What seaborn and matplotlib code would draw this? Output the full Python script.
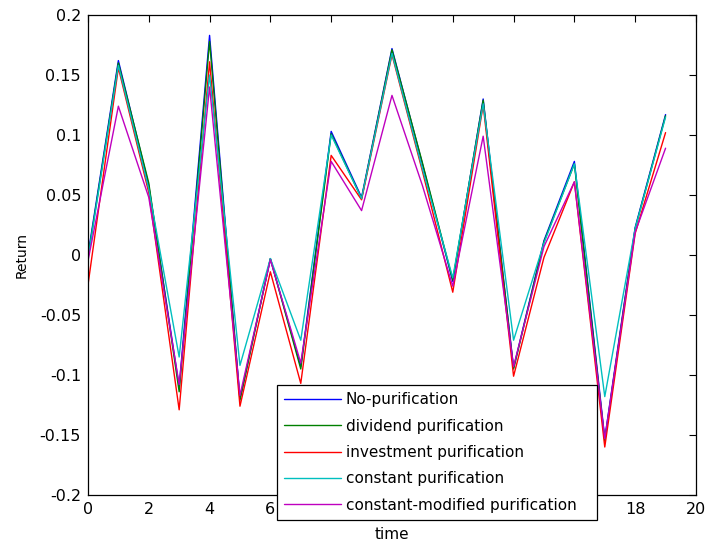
import matplotlib
matplotlib.use("Agg")
import matplotlib.pyplot as plt
import pandas as pd
import seaborn as sns

# Return series for each purification scheme, one value per time step
time = list(range(20))
no_purification = [0.000, 0.162, 0.058, -0.110, 0.183, -0.120, -0.003, -0.093, 0.103, 0.048,
                   0.172, 0.076, -0.022, 0.130, -0.094, 0.012, 0.078, -0.153, 0.023, 0.117]
dividend_purification = [-0.002, 0.160, 0.060, -0.114, 0.178, -0.121, -0.003, -0.095, 0.101, 0.047,
                         0.171, 0.077, -0.021, 0.129, -0.095, 0.011, 0.076, -0.155, 0.022, 0.116]
investment_purification = [-0.025, 0.156, 0.052, -0.129, 0.161, -0.126, -0.014, -0.107, 0.083, 0.046,
                           0.167, 0.070, -0.031, 0.125, -0.101, -0.002, 0.061, -0.160, 0.018, 0.102]
constant_purification = [-0.003, 0.158, 0.055, -0.085, 0.150, -0.092, -0.003, -0.071, 0.100, 0.047,
                         0.168, 0.072, -0.019, 0.126, -0.071, 0.010, 0.076, -0.118, 0.022, 0.115]
constant_modified_purification = [-0.005, 0.124, 0.048, -0.108, 0.140, -0.117, -0.004, -0.090, 0.078, 0.037,
                                  0.133, 0.058, -0.026, 0.099, -0.093, 0.007, 0.061, -0.153, 0.019, 0.089]

series_names = ["No-purification", "dividend purification", "investment purification",
                "constant purification", "constant-modified purification"]
series_values = [no_purification, dividend_purification, investment_purification,
                 constant_purification, constant_modified_purification]
colors = ["#0000ff", "#008000", "#ff0000", "#00bfbf", "#bf00bf"]

y_ticks = [-0.2, -0.15, -0.1, -0.05, 0, 0.05, 0.1, 0.15, 0.2]
y_tick_labels = ["-0.2", "-0.15", "-0.1", "-0.05", "0", "0.05", "0.1", "0.15", "0.2"]
x_ticks = [0, 2, 4, 6, 8, 10, 12, 14, 16, 18, 20]

frames = []
for name, vals in zip(series_names, series_values):
    frames.append(pd.DataFrame({"time": time, "Return": vals, "series": name}))
df = pd.concat(frames, ignore_index=True)

sns.set_style("white")
plt.rcParams["font.family"] = ["DejaVu Sans"]
plt.rcParams["text.color"] = "black"
plt.rcParams["axes.labelcolor"] = "black"

fig = plt.figure(figsize=(7.06, 5.41), dpi=100)
ax = fig.add_axes([0.1246, 0.085, 0.8612, 0.8873])

sns.lineplot(data=df, x="time", y="Return", hue="series", hue_order=series_names,
             palette=colors, linewidth=1.0, ax=ax, legend=False, estimator=None, sort=False)

ax.set_xlim(0, 20)
ax.set_ylim(-0.2, 0.2)
ax.set_xticks(x_ticks)
ax.set_xticklabels([str(t) for t in x_ticks])
ax.set_yticks(y_ticks)
ax.set_yticklabels(y_tick_labels)
ax.tick_params(direction="in", length=5, width=0.8, top=True, right=True,
               labelsize=11.5, colors="black", pad=5)
for side in ax.spines.values():
    side.set_visible(True)
    side.set_color("black")
    side.set_linewidth(0.9)

ax.set_xlabel("time", fontsize=11, labelpad=7)
ax.set_ylabel("Return", fontsize=10, labelpad=8)

handles = [plt.Line2D([], [], color=c, linewidth=1.0) for c in colors]
leg = fig.legend(handles, series_names, loc="lower left",
                 bbox_to_anchor=(0.392, 0.039, 0.453, 0.251), mode="expand",
                 frameon=True, fancybox=False, framealpha=1.0, edgecolor="black",
                 fontsize=11, handlelength=3.7, handletextpad=0.33,
                 labelspacing=0.74, borderpad=0.48, borderaxespad=0.0)
leg.get_frame().set_linewidth(0.9)

fig.savefig("out.png", dpi=100)
